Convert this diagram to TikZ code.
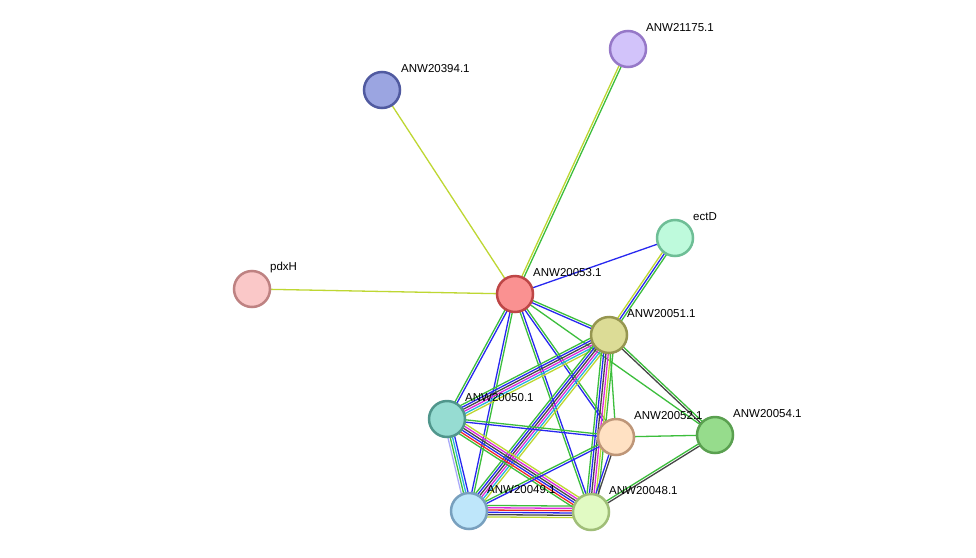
\documentclass[tikz,border=0pt]{standalone}
\usepackage{fontspec}
\setmainfont{Liberation Sans}
\usetikzlibrary{calc}
\definecolor{eG}{RGB}{60,190,60}
\definecolor{eB}{RGB}{40,40,240}
\definecolor{eK}{RGB}{70,70,70}
\definecolor{eM}{RGB}{220,40,220}
\definecolor{eC}{RGB}{40,180,220}
\definecolor{eY}{RGB}{190,215,50}
\definecolor{eR}{RGB}{240,40,40}
\definecolor{eL}{RGB}{170,170,250}
\definecolor{f21175}{RGB}{210,195,250}\definecolor{d21175}{RGB}{150,120,200}
\definecolor{f20394}{RGB}{155,165,225}\definecolor{d20394}{RGB}{80,90,160}
\definecolor{fectD}{RGB}{190,250,220}\definecolor{dectD}{RGB}{110,190,150}
\definecolor{fpdxH}{RGB}{250,200,200}\definecolor{dpdxH}{RGB}{190,130,130}
\definecolor{f53}{RGB}{250,145,145}\definecolor{d53}{RGB}{190,70,70}
\definecolor{f51}{RGB}{220,220,150}\definecolor{d51}{RGB}{150,150,80}
\definecolor{f50}{RGB}{150,220,210}\definecolor{d50}{RGB}{80,150,140}
\definecolor{f52}{RGB}{255,225,195}\definecolor{d52}{RGB}{190,150,120}
\definecolor{f54}{RGB}{150,220,140}\definecolor{d54}{RGB}{90,160,80}
\definecolor{f49}{RGB}{190,230,250}\definecolor{d49}{RGB}{120,160,190}
\definecolor{f48}{RGB}{225,250,195}\definecolor{d48}{RGB}{160,190,120}
\newcommand\medge[4]{%
  \foreach \cc [count=\i] in {#4} {%
    \pgfmathsetmacro\off{(\i-(#3+1)/2)*2.3}
    \draw[\cc, line width=1.3pt] ($(#1.center)!\off pt!90:(#2.center)$) -- ($(#2.center)!\off pt!-90:(#1.center)$);
  }}
\tikzset{
  prot/.style={circle, minimum size=36pt, inner sep=0pt, line width=2.5pt, fill=f#1, draw=d#1},
  lab/.style={font=\fontsize{11.5}{13}\selectfont, anchor=west, inner sep=0pt}
}
\begin{document}
\begin{tikzpicture}[x=1pt,y=-1pt]
\useasboundingbox[fill=white] (0,0) rectangle (976,557);
\coordinate (p21175) at (628,49);
\coordinate (p20394) at (382,90);
\coordinate (pectD) at (675,238);
\coordinate (ppdxH) at (252,289);
\coordinate (p53) at (515,294);
\coordinate (p51) at (609,335);
\coordinate (p50) at (447,419);
\coordinate (p52) at (616,437);
\coordinate (p54) at (715,435);
\coordinate (p49) at (469,511);
\coordinate (p48) at (591,512);
% edges
\medge{p53}{p21175}{2}{eG,eY}
\medge{p53}{p20394}{1}{eY}
\medge{p53}{ppdxH}{1}{eY}
\medge{p53}{pectD}{1}{eB}
\medge{p53}{p51}{2}{eB,eG}
\medge{p53}{p50}{2}{eG,eB}
\medge{p53}{p49}{2}{eB,eG}
\medge{p53}{p48}{2}{eG,eB}
\medge{p53}{p52}{2}{eB,eG}
\medge{p53}{p54}{1}{eG}
\medge{p51}{pectD}{3}{eG,eB,eY}
\medge{p51}{p50}{6}{eG,eB,eK,eM,eC,eY}
\medge{p51}{p49}{6}{eG,eB,eK,eM,eC,eY}
\medge{p51}{p48}{6}{eG,eB,eK,eM,eY,eG}
\medge{p51}{p52}{1}{eG}
\medge{p51}{p54}{2}{eK,eG}
\medge{p50}{p52}{2}{eB,eG}
\medge{p50}{p49}{4}{eL,eG,eC,eB}
\medge{p50}{p48}{6}{eG,eR,eB,eK,eM,eY}
\medge{p52}{p49}{2}{eG,eB}
\medge{p52}{p48}{2}{eB,eK}
\medge{p52}{p54}{1}{eG}
\medge{p54}{p48}{2}{eG,eK}
\medge{p49}{p48}{6}{eY,eK,eB,eR,eM,eG}
% nodes
\node[prot=21175] (n21175) at (p21175) {};
\node[prot=20394] (n20394) at (p20394) {};
\node[prot=ectD] (nectD) at (pectD) {};
\node[prot=pdxH] (npdxH) at (ppdxH) {};
\node[prot=53] (n53) at (p53) {};
\node[prot=51] (n51) at (p51) {};
\node[prot=50] (n50) at (p50) {};
\node[prot=52] (n52) at (p52) {};
\node[prot=54] (n54) at (p54) {};
\node[prot=49] (n49) at (p49) {};
\node[prot=48] (n48) at (p48) {};
% labels
\node[lab] (l21175) at ($(p21175)+(18,-21)$) {ANW21175.1};
\node[lab] (l20394) at ($(p20394)+(19,-21)$) {ANW20394.1};
\node[lab] (lectD) at ($(pectD)+(18,-21)$) {ectD};
\node[lab] (lpdxH) at ($(ppdxH)+(18,-21)$) {pdxH};
\node[lab] (l53) at ($(p53)+(18,-21)$) {ANW20053.1};
\node[lab] (l51) at ($(p51)+(18,-21)$) {ANW20051.1};
\node[lab] (l50) at ($(p50)+(18,-21)$) {ANW20050.1};
\node[lab] (l52) at ($(p52)+(18,-21)$) {ANW20052.1};
\node[lab] (l54) at ($(p54)+(18,-21)$) {ANW20054.1};
\node[lab] (l49) at ($(p49)+(18,-21)$) {ANW20049.1};
\node[lab] (l48) at ($(p48)+(18,-21)$) {ANW20048.1};
\end{tikzpicture}
\end{document}
